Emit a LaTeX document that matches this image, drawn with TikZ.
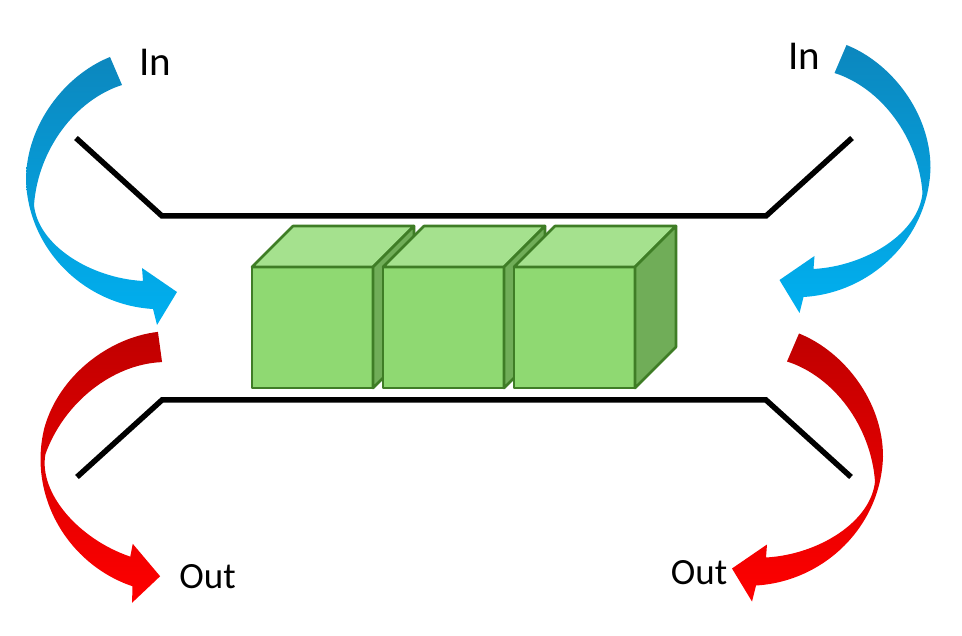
\documentclass[tikz,border=0pt]{standalone}
\usepackage{fontspec}
\setmainfont{Carlito}
\definecolor{bluetop}{RGB}{12,135,190}
\definecolor{bluebot}{RGB}{0,176,240}
\definecolor{redtop}{RGB}{192,0,0}
\definecolor{redbot}{RGB}{255,0,0}
\definecolor{cubefront}{RGB}{143,217,114}
\definecolor{cubetop}{RGB}{165,225,142}
\definecolor{cubeside}{RGB}{112,173,88}
\definecolor{cubeedge}{RGB}{63,125,38}
\newcommand\carrowpath[1]{%
  \path[#1] (-6,-14) .. controls (-51,4) and (-90,54) .. (-90,109)
    .. controls (-88,179) and (-31,234) .. (37,238)
    -- (41,254) -- (61,221) -- (26,197) -- (27,210)
    .. controls (-26,207) and (-78,174) .. (-82,134)
    .. controls (-78,79) and (-41,29) .. (6,14) -- cycle;}
\begin{document}
\begin{tikzpicture}[x=1pt,y=-1pt,
  wall/.style={line width=5.5pt, draw=black},
  cubeline/.style={draw=cubeedge, line width=2.6pt, line join=round},
  inlbl/.style={font=\fontsize{41}{48}\selectfont, inner sep=0pt},
  outlbl/.style={font=\fontsize{37}{44}\selectfont, inner sep=0pt},
  bluearrow/.style={top color=bluetop, bottom color=bluebot, draw=none},
  redarrow/.style={top color=redtop, bottom color=redbot, draw=none}]
\useasboundingbox (0,0) rectangle (962,636);
% walls
\draw[wall] (76,138) -- (162,216) -- (766,216) -- (852,138);
\draw[wall] (77,477) -- (162,400) -- (766,400) -- (851,477);
% cubes
\foreach \x in {252,383,514}{
  \filldraw[cubeline, fill=cubefront] (\x,267) rectangle ++(121,121);
  \filldraw[cubeline, fill=cubetop] (\x,267) -- ++(41,-41) -- ++(121,0) -- ++(-41,41) -- cycle;
  \filldraw[cubeline, fill=cubeside] (\x+121,267) -- ++(41,-41) -- ++(0,121) -- ++(-41,41) -- cycle;
}
% curved arrows
\begin{scope}[shift={(116,71)}]
  \carrowpath{bluearrow}
\end{scope}
\begin{scope}[shift={(840.5,59)}, xscale=-1]
  \carrowpath{bluearrow}
\end{scope}
\begin{scope}[shift={(160,347)}, rotate=-15.4]
  \carrowpath{redarrow}
\end{scope}
\begin{scope}[shift={(793,347.5)}, xscale=-1]
  \carrowpath{redarrow}
\end{scope}
% labels
\node[inlbl] (inL) at (155,62) {In};
\node[inlbl] (inR) at (804,56) {In};
\node[outlbl] (outL) at (207.5,577) {Out};
\node[outlbl] (outR) at (699,573) {Out};
\end{tikzpicture}
\end{document}
